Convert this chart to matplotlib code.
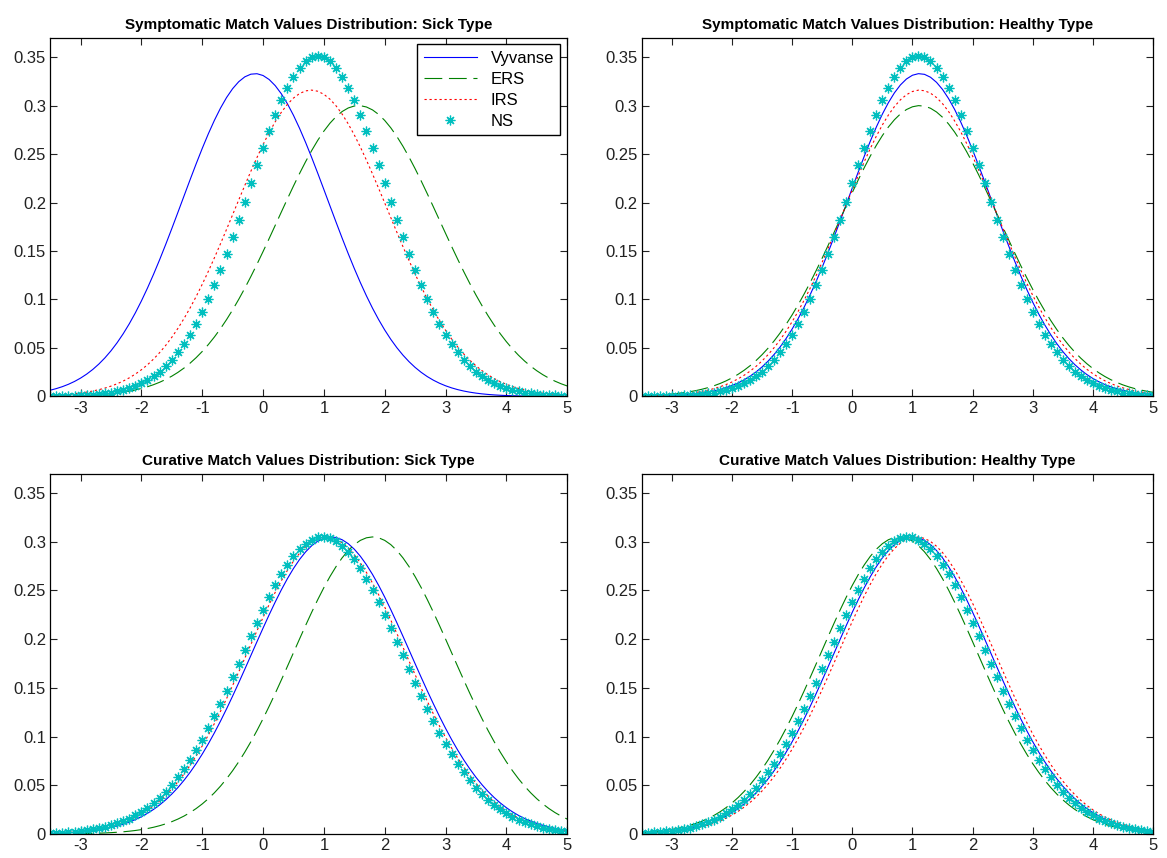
import numpy as np
import matplotlib
matplotlib.use('Agg')
import matplotlib.pyplot as plt

plt.rcParams['font.family'] = ['Liberation Sans', 'DejaVu Sans']

# x grid used for every curve (NS markers sit on every point)
x_values = np.arange(-35, 51) / 10.0

series_names = ['Vyvanse', 'ERS', 'IRS', 'NS']

titles = [
    'Symptomatic Match Values Distribution: Sick Type',
    'Symptomatic Match Values Distribution: Healthy Type',
    'Curative Match Values Distribution: Sick Type',
    'Curative Match Values Distribution: Healthy Type',
]

# centre of each curve (order: Vyvanse, ERS, IRS, NS)
symptomatic_sick_means = [-0.13, 1.57, 0.79, 0.90]
symptomatic_healthy_means = [1.12, 1.12, 1.12, 1.10]
curative_sick_means = [1.12, 1.80, 1.04, 0.98]
curative_healthy_means = [1.00, 0.78, 1.07, 0.92]

# peak height of each curve
symptomatic_sick_peaks = [0.333, 0.300, 0.316, 0.351]
symptomatic_healthy_peaks = [0.333, 0.300, 0.316, 0.351]
curative_sick_peaks = [0.305, 0.305, 0.305, 0.305]
curative_healthy_peaks = [0.305, 0.305, 0.305, 0.305]

x_ticks = [-3, -2, -1, 0, 1, 2, 3, 4, 5]
y_ticks = [0, 0.05, 0.1, 0.15, 0.2, 0.25, 0.3, 0.35]
y_tick_labels = ['0', '0.05', '0.1', '0.15', '0.2', '0.25', '0.3', '0.35']


def density(x, mean, peak):
    """Gaussian curve with given centre and peak height"""
    sigma = 1.0 / (peak * np.sqrt(2 * np.pi))
    return peak * np.exp(-0.5 * ((x - mean) / sigma) ** 2)


def draw_panel(ax, title, means, peaks, legend=False):
    ax.plot(x_values, density(x_values, means[0], peaks[0]), color='#0000ff',
            lw=0.8, label=series_names[0])
    ax.plot(x_values, density(x_values, means[1], peaks[1]), color='#008000',
            lw=0.8, dashes=(16, 6), label=series_names[1])
    ax.plot(x_values, density(x_values, means[2], peaks[2]), color='#ff0000',
            lw=0.8, dashes=(2, 2.5), label=series_names[2])
    # MATLAB style '*' marker: plus and cross overlaid
    ax.plot(x_values, density(x_values, means[3], peaks[3]), color='#00bfbf',
            ls='none', marker=(8, 2, 0), ms=7, mew=0.9, label=series_names[3])

    ax.set_xlim(-3.5, 5)
    ax.set_ylim(0, 0.37)
    ax.set_xticks(x_ticks)
    ax.set_xticklabels([str(t) for t in x_ticks])
    ax.set_yticks(y_ticks)
    ax.set_yticklabels(y_tick_labels)
    ax.tick_params(direction='in', top=True, right=True, length=5, width=0.8,
                   labelsize=12, colors='#222222', pad=3)
    for spine in ax.spines.values():
        spine.set_linewidth(0.9)
    ax.set_title(title, fontsize=11, fontweight='bold', pad=6)

    if legend:
        leg = ax.legend(loc='upper right', fontsize=12, fancybox=False,
                        edgecolor='black', framealpha=1, handlelength=3.2,
                        borderaxespad=0.4, labelspacing=0.35)
        leg.get_frame().set_linewidth(1.0)


fig = plt.figure(figsize=(11.67, 8.58), dpi=100)
positions = [
    [0.043, 0.538, 0.443, 0.418],
    [0.550, 0.538, 0.438, 0.418],
    [0.043, 0.028, 0.443, 0.420],
    [0.550, 0.028, 0.438, 0.420],
]
all_means = [symptomatic_sick_means, symptomatic_healthy_means,
             curative_sick_means, curative_healthy_means]
all_peaks = [symptomatic_sick_peaks, symptomatic_healthy_peaks,
             curative_sick_peaks, curative_healthy_peaks]

for i in range(4):
    ax = fig.add_axes(positions[i])
    draw_panel(ax, titles[i], all_means[i], all_peaks[i], legend=(i == 0))

fig.savefig('out.png', dpi=100)
